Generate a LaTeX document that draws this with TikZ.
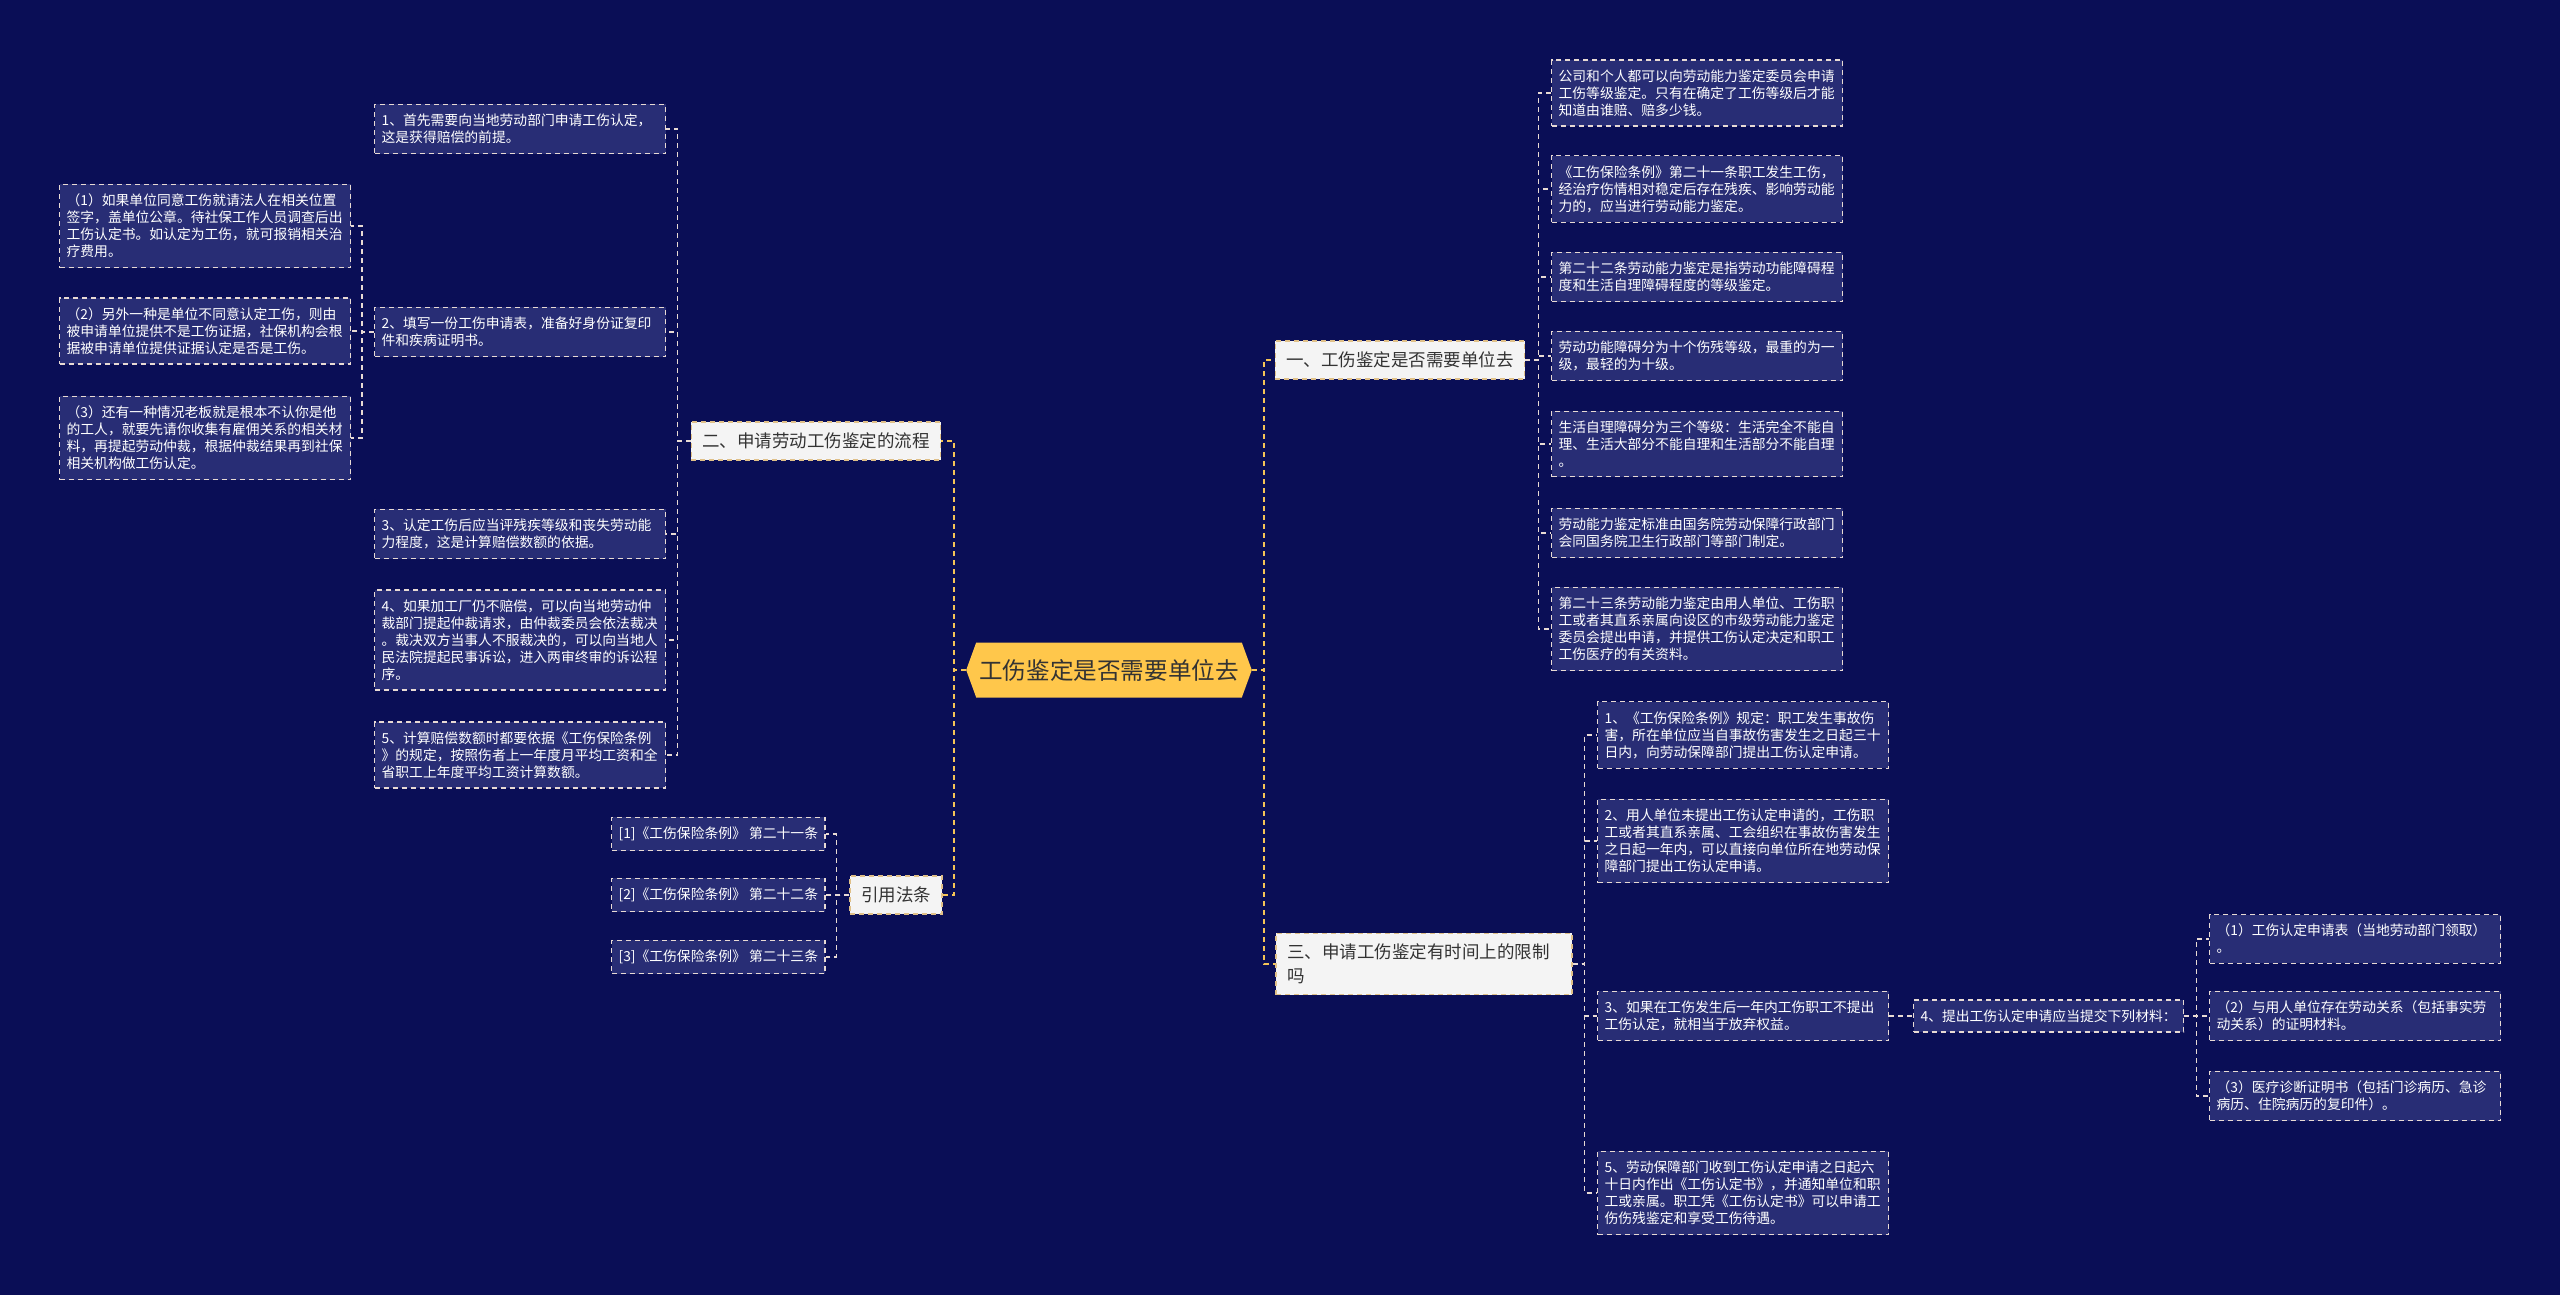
\documentclass[tikz,border=0pt]{standalone}
\usepackage{fontspec}
\setmainfont{Noto Sans CJK SC}
\usepackage{tikz}
\usetikzlibrary{shapes.symbols}
\definecolor{bgnavy}{HTML}{0A0E56}
\definecolor{leaffill}{HTML}{282D75}
\definecolor{leafedge}{HTML}{E8DAD4}
\definecolor{gold}{HTML}{F5C456}
\definecolor{rootfill}{HTML}{FFC74B}
\definecolor{branchfill}{HTML}{F4F4F4}
\definecolor{branchedge}{HTML}{E0C088}
\definecolor{inkgray}{HTML}{333333}

\begin{document}
\begin{tikzpicture}[x=0.5pt, y=-0.5pt,
  root/.style={signal, signal to=west and east, signal pointer angle=140, fill=rootfill, text=inkgray, font=\fontsize{11.8}{13}\selectfont, minimum height=27.5pt, inner xsep=1.5pt},
  branch/.style={rectangle, draw=branchedge, line width=0.6pt, dash pattern=on 2.5pt off 2pt, fill=branchfill, text=inkgray, font=\fontsize{8.75}{12}\selectfont, inner xsep=5.5pt, inner ysep=5.4pt, align=left},
  leaf/.style={rectangle, draw=leafedge, line width=0.6pt, dash pattern=on 2.5pt off 2pt, fill=leaffill, text=white, font=\fontsize{6.9}{8.5}\selectfont, inner xsep=3.5pt, inner ysep=4.8pt, align=left},
  leafw/.style={leaf, text width=138.5pt},
  mainlink/.style={draw=gold, line width=0.75pt, dash pattern=on 2.5pt off 2pt},
  sublink/.style={draw=leafedge, line width=0.6pt, dash pattern=on 2.5pt off 2pt}
]
\fill[bgnavy] (0,0) rectangle (2560,1295);
\useasboundingbox (0,0) rectangle (2560,1295);

% ===== Root and main branches =====
\node[root] (root) at (1109,670) {工伤鉴定是否需要单位去};
\node[branch] (need) at (1400,360) {一、工伤鉴定是否需要单位去};
\node[branch] (flow) at (816,441) {二、申请劳动工伤鉴定的流程};
\node[branch] (law)  at (896,895) {引用法条};
\node[branch, text width=137pt] (limit) at (1424,964) {三、申请工伤鉴定有时间上的限制\\吗};

% ===== Branch one =====
\node[leafw, anchor=west] (n1) at (1551,93) {公司和个人都可以向劳动能力鉴定委员会申请\\工伤等级鉴定。只有在确定了工伤等级后才能\\知道由谁赔、赔多少钱。};
\node[leafw, anchor=west] (n2) at (1551,189) {《工伤保险条例》第二十一条职工发生工伤，\\经治疗伤情相对稳定后存在残疾、影响劳动能\\力的，应当进行劳动能力鉴定。};
\node[leafw, anchor=west] (n3) at (1551,277) {第二十二条劳动能力鉴定是指劳动功能障碍程\\度和生活自理障碍程度的等级鉴定。};
\node[leafw, anchor=west] (n4) at (1551,356) {劳动功能障碍分为十个伤残等级，最重的为一\\级，最轻的为十级。};
\node[leafw, anchor=west] (n5) at (1551,444) {生活自理障碍分为三个等级：生活完全不能自\\理、生活大部分不能自理和生活部分不能自理\\。};
\node[leafw, anchor=west] (n6) at (1551,533) {劳动能力鉴定标准由国务院劳动保障行政部门\\会同国务院卫生行政部门等部门制定。};
\node[leafw, anchor=west] (n7) at (1551,629) {第二十三条劳动能力鉴定由用人单位、工伤职\\工或者其直系亲属向设区的市级劳动能力鉴定\\委员会提出申请，并提供工伤认定决定和职工\\工伤医疗的有关资料。};

% ===== Branch two =====
\node[leafw, anchor=west] (f1) at (374,129) {1、首先需要向当地劳动部门申请工伤认定，\\这是获得赔偿的前提。};
\node[leafw, anchor=west] (f2) at (374,332) {2、填写一份工伤申请表，准备好身份证复印\\件和疾病证明书。};
\node[leafw, anchor=west] (f3) at (374,534) {3、认定工伤后应当评残疾等级和丧失劳动能\\力程度，这是计算赔偿数额的依据。};
\node[leafw, anchor=west] (f4) at (374,640) {4、如果加工厂仍不赔偿，可以向当地劳动仲\\裁部门提起仲裁请求，由仲裁委员会依法裁决\\。裁决双方当事人不服裁决的，可以向当地人\\民法院提起民事诉讼，进入两审终审的诉讼程\\序。};
\node[leafw, anchor=west] (f5) at (374,755) {5、计算赔偿数额时都要依据《工伤保险条例\\》的规定，按照伤者上一年度月平均工资和全\\省职工上年度平均工资计算数额。};
\node[leafw, anchor=west] (s1) at (59,226) {（1）如果单位同意工伤就请法人在相关位置\\签字，盖单位公章。待社保工作人员调查后出\\工伤认定书。如认定为工伤，就可报销相关治\\疗费用。};
\node[leafw, anchor=west] (s2) at (59,331) {（2）另外一种是单位不同意认定工伤，则由\\被申请单位提供不是工伤证据，社保机构会根\\据被申请单位提供证据认定是否是工伤。};
\node[leafw, anchor=west] (s3) at (59,438) {（3）还有一种情况老板就是根本不认你是他\\的工人，就要先请你收集有雇佣关系的相关材\\料，再提起劳动仲裁，根据仲裁结果再到社保\\相关机构做工伤认定。};

% ===== Cited articles =====
\node[leaf, anchor=west] (c1) at (611,834) {[1]《工伤保险条例》 第二十一条};
\node[leaf, anchor=west] (c2) at (611,895) {[2]《工伤保险条例》 第二十二条};
\node[leaf, anchor=west] (c3) at (611,957) {[3]《工伤保险条例》 第二十三条};

% ===== Branch three =====
\node[leafw, anchor=west] (t1) at (1597,735) {1、《工伤保险条例》规定：职工发生事故伤\\害，所在单位应当自事故伤害发生之日起三十\\日内，向劳动保障部门提出工伤认定申请。};
\node[leafw, anchor=west] (t2) at (1597,841) {2、用人单位未提出工伤认定申请的，工伤职\\工或者其直系亲属、工会组织在事故伤害发生\\之日起一年内，可以直接向单位所在地劳动保\\障部门提出工伤认定申请。};
\node[leafw, anchor=west] (t3) at (1597,1016) {3、如果在工伤发生后一年内工伤职工不提出\\工伤认定，就相当于放弃权益。};
\node[leafw, anchor=west] (t5) at (1597,1193) {5、劳动保障部门收到工伤认定申请之日起六\\十日内作出《工伤认定书》，并通知单位和职\\工或亲属。职工凭《工伤认定书》可以申请工\\伤伤残鉴定和享受工伤待遇。};
\node[leaf, anchor=west] (t4) at (1913,1016) {4、提出工伤认定申请应当提交下列材料：};
\node[leafw, anchor=west] (m1) at (2209,939) {（1）工伤认定申请表（当地劳动部门领取）\\。};
\node[leafw, anchor=west] (m2) at (2209,1016) {（2）与用人单位存在劳动关系（包括事实劳\\动关系）的证明材料。};
\node[leafw, anchor=west] (m3) at (2209,1096) {（3）医疗诊断证明书（包括门诊病历、急诊\\病历、住院病历的复印件）。};

% ===== Links =====
\foreach \b in {flow,law}{\draw[mainlink] (root.west) -- ++(-12,0) |- (\b.east);}
\foreach \b in {need,limit}{\draw[mainlink] (root.east) -- ++(12,0) |- (\b.west);}
\foreach \n in {n1,n2,n3,n4,n5,n6,n7}{\draw[sublink] (need.east) -- ++(13,0) |- (\n.west);}
\foreach \n in {f1,f2,f3,f4,f5}{\draw[sublink] (flow.west) -- ++(-13,0) |- (\n.east);}
\foreach \n in {s1,s2,s3}{\draw[sublink] (f2.west) -- ++(-12,0) |- (\n.east);}
\foreach \n in {c1,c2,c3}{\draw[sublink] (law.west) -- ++(-13,0) |- (\n.east);}
\foreach \n in {t1,t2,t3,t5}{\draw[sublink] (limit.east) -- ++(12,0) |- (\n.west);}
\draw[sublink] (t3.east) -- (t4.west);
\foreach \n in {m1,m2,m3}{\draw[sublink] (t4.east) -- ++(12,0) |- (\n.west);}

\end{tikzpicture}
\end{document}
